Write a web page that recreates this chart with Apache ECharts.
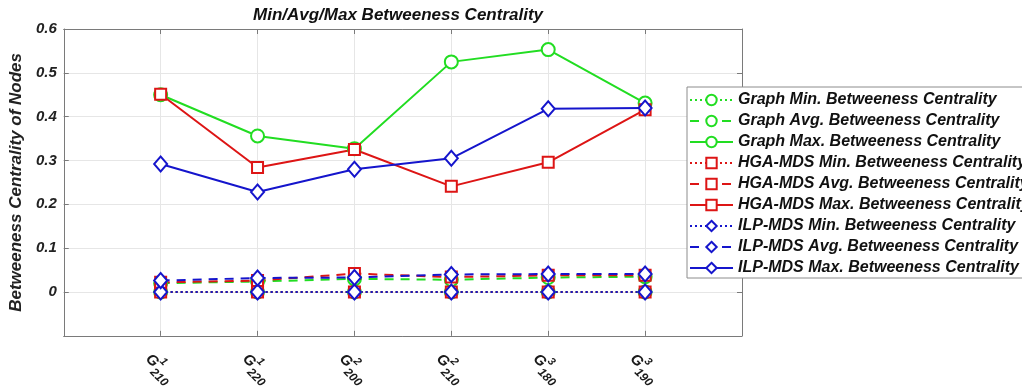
<!DOCTYPE html>
<html>
<head>
<meta charset="utf-8">
<script src="https://cdn.jsdelivr.net/npm/echarts@6/dist/echarts.min.js"></script>
<style>
  html, body { margin: 0; padding: 0; background: #fff; }
  #chart { width: 1022px; height: 391px; }
</style>
</head>
<body>
<div id="chart"></div>
<script>
// Graph labels G^k_n : superscript k (graph family) and subscript n (node count)
const graphFamily = ['1', '1', '2', '2', '3', '3'];
const nodeCount   = ['210', '220', '200', '210', '180', '190'];

// Betweenness centrality (min / avg / max) per graph
const graphMin = [0, 0, 0, 0, 0, 0];
const graphAvg = [0.020, 0.024, 0.030, 0.028, 0.033, 0.035];
const graphMax = [0.450, 0.356, 0.327, 0.525, 0.553, 0.431];

const hgaMin = [0, 0, 0, 0, 0, 0];
const hgaAvg = [0.022, 0.026, 0.042, 0.034, 0.038, 0.038];
const hgaMax = [0.451, 0.284, 0.325, 0.241, 0.296, 0.416];

const ilpMin = [0, 0, 0, 0, 0, 0];
const ilpAvg = [0.026, 0.032, 0.033, 0.040, 0.041, 0.041];
const ilpMax = [0.292, 0.228, 0.280, 0.305, 0.418, 0.420];

const yTickValues = [0, 0.1, 0.2, 0.3, 0.4, 0.5, 0.6];

const GREEN = '#22dd22';
const RED = '#dd1515';
const BLUE = '#1515cc';
const AXIS = '#7a7a7a';
const FONT = '"Liberation Sans", Arial, sans-serif';

const DOTTED = [2, 3];
const DASHED = [9, 7];

function toPoints(values) {
  return values.map((v, i) => [i + 1, v]);
}

function makeSeries(name, values, color, symbol, size, dash) {
  return {
    name: name,
    type: 'line',
    data: toPoints(values),
    symbol: symbol,
    symbolSize: size,
    showAllSymbol: true,
    lineStyle: { color: color, width: 2, type: dash },
    itemStyle: { color: color, borderColor: color, borderWidth: 2 },
    emphasis: { disabled: true }
  };
}

const seriesList = [
  makeSeries('Graph Min. Betweeness Centrality', graphMin, GREEN, 'emptyCircle', 13, DOTTED),
  makeSeries('Graph Avg. Betweeness Centrality', graphAvg, GREEN, 'emptyCircle', 13, DASHED),
  makeSeries('Graph Max. Betweeness Centrality', graphMax, GREEN, 'emptyCircle', 13, 'solid'),
  makeSeries('HGA-MDS Min. Betweeness Centrality', hgaMin, RED, 'emptyRect', 11, DOTTED),
  makeSeries('HGA-MDS Avg. Betweeness Centrality', hgaAvg, RED, 'emptyRect', 11, DASHED),
  makeSeries('HGA-MDS Max. Betweeness Centrality', hgaMax, RED, 'emptyRect', 11, 'solid'),
  makeSeries('ILP-MDS Min. Betweeness Centrality', ilpMin, BLUE, 'emptyDiamond', [13, 15], DOTTED),
  makeSeries('ILP-MDS Avg. Betweeness Centrality', ilpAvg, BLUE, 'emptyDiamond', [13, 15], DASHED),
  makeSeries('ILP-MDS Max. Betweeness Centrality', ilpMax, BLUE, 'emptyDiamond', [13, 15], 'solid')
];

const chart = echarts.init(document.getElementById('chart'), null, { renderer: 'canvas' });

const boxLine = { show: true, onZero: false, lineStyle: { color: AXIS, width: 1 } };
const inTick = { show: true, inside: true, length: 5, lineStyle: { color: AXIS } };

chart.setOption({
  animation: false,
  backgroundColor: '#fff',
  textStyle: { fontFamily: FONT },
  title: {
    text: 'Min/Avg/Max Betweeness Centrality',
    left: 253,
    top: 7,
    padding: 0,
    textStyle: { fontSize: 17, fontWeight: 'bold', fontStyle: 'italic', color: '#111', fontFamily: FONT }
  },
  grid: { left: 60, right: 280, top: 29, bottom: 53, containLabel: false },
  legend: {
    orient: 'vertical',
    left: 687,
    top: 87,
    padding: [5, 4, 2, 2],
    itemWidth: 43,
    itemHeight: 13,
    itemGap: 5,
    selectedMode: false,
    backgroundColor: '#fff',
    borderColor: '#8c8c8c',
    borderWidth: 1,
    textStyle: { fontSize: 16, lineHeight: 16, fontWeight: 'bold', fontStyle: 'italic', color: '#111', fontFamily: FONT },
    data: seriesList.map(s => s.name)
  },
  xAxis: [
    {
      type: 'value',
      min: 0,
      max: 7,
      interval: 1,
      axisLine: boxLine,
      axisTick: inTick,
      splitLine: { show: true, lineStyle: { color: '#e6e6e6', width: 1 } },
      axisLabel: {
        rotate: -45,
        margin: 8,
        align: 'left',
        verticalAlign: 'top',
        padding: [5, 0, 0, 0],
        showMinLabel: true,
        showMaxLabel: true,
        formatter: function (v) {
          const i = Math.round(v) - 1;
          if (i < 0 || i >= nodeCount.length) return '';
          return '{g|G}{sup|' + graphFamily[i] + '}{sub|' + nodeCount[i] + '}';
        },
        rich: {
          g: { fontSize: 15, lineHeight: 26, verticalAlign: 'middle', fontWeight: 'bold', fontStyle: 'italic', color: '#1a1a1a', fontFamily: FONT },
          sup: { fontSize: 11, width: 1, verticalAlign: 'top', fontWeight: 'bold', fontStyle: 'italic', color: '#1a1a1a', fontFamily: FONT },
          sub: { fontSize: 12, verticalAlign: 'bottom', fontWeight: 'bold', fontStyle: 'italic', color: '#1a1a1a', fontFamily: FONT }
        }
      }
    },
    {
      type: 'value',
      position: 'top',
      min: 0,
      max: 7,
      interval: 1,
      axisLine: boxLine,
      axisTick: inTick,
      axisLabel: { show: false },
      splitLine: { show: false }
    }
  ],
  yAxis: [
    {
      type: 'value',
      min: -0.1,
      max: 0.6,
      interval: 0.1,
      name: 'Betweeness Centrality of Nodes',
      nameLocation: 'middle',
      nameRotate: 90,
      nameGap: 37,
      nameTextStyle: { fontSize: 17, fontWeight: 'bold', fontStyle: 'italic', color: '#222', fontFamily: FONT },
      axisLine: boxLine,
      axisTick: inTick,
      splitLine: { show: true, lineStyle: { color: '#e6e6e6', width: 1 } },
      axisLabel: {
        margin: 7,
        fontSize: 15,
        fontWeight: 'bold',
        fontStyle: 'italic',
        color: '#222',
        fontFamily: FONT,
        formatter: function (v) {
          const r = Math.round(v * 10) / 10;
          return yTickValues.indexOf(r) >= 0 ? String(r) : '';
        }
      }
    },
    {
      type: 'value',
      position: 'right',
      min: -0.1,
      max: 0.6,
      interval: 0.1,
      axisLine: boxLine,
      axisTick: inTick,
      axisLabel: { show: false },
      splitLine: { show: false }
    }
  ],
  series: seriesList
});
</script>
</body>
</html>
